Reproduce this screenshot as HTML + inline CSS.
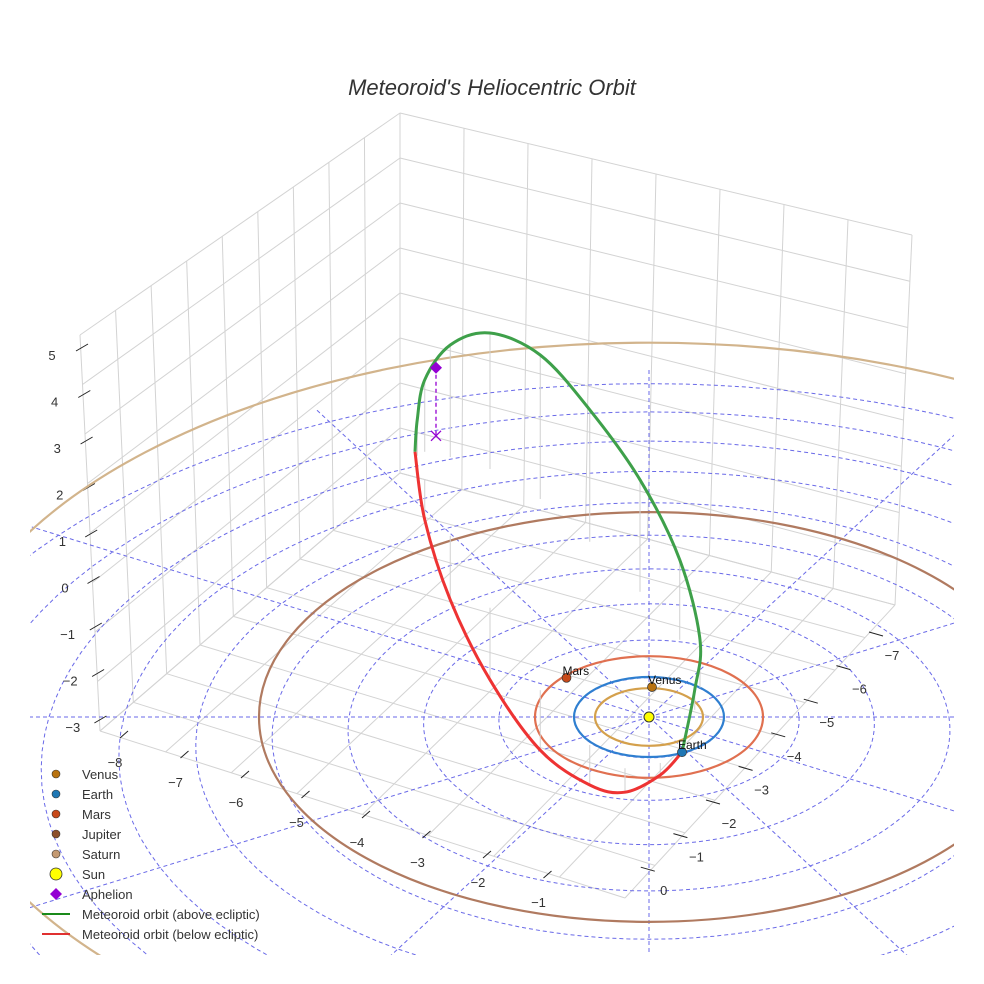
<!DOCTYPE html>
<html><head><meta charset="utf-8"><style>
html,body{margin:0;background:#fff;overflow:hidden;width:984px;height:984px}
svg{display:block;font-family:"Liberation Sans",sans-serif}
</style></head><body>
<svg id="c" width="984" height="984" viewBox="0 0 984 984">
<defs><clipPath id="clip"><rect x="30" y="0" width="924" height="955"/></clipPath></defs>
<text x="492" y="95" text-anchor="middle" font-size="22" font-style="italic" fill="#333">Meteoroid's Heliocentric Orbit</text>
<g id="box"></g>
<g id="ecl" clip-path="url(#clip)"></g>
<g id="axes"></g>
<g id="marks" clip-path="url(#clip)"></g>
<g id="legend"></g>
</svg>
<script>
// ---- data ----
const planetNames = ["Venus","Earth","Mars","Jupiter","Saturn"];
const planetOrbitAU = [0.72,1.0,1.52,5.2,9.5];
const planetColors = ["#d4a04c","#2f7fd0","#e07050","#b07a60","#d2b48c"];
const markerColors = ["#b8720f","#1f77b4","#c84a1a","#8c4f2c","#c49a72"];
const planetU = [0.04,0.44,-1.1];
const planetV = [-0.75,0.88,-0.98];
const ringRadii = [1,2,3,4,5,6,7,8,9,10];
const radialLength = 10.5;
const orbitAboveU = [0.44,0.61,0.68,0.41,-0.12,-0.79,-1.45,-2.12,-2.65,-2.99,-3.09,-3.12];
const orbitAboveV = [0.88,-0.18,-0.73,-1.93,-3.13,-4.38,-5.45,-6.2,-6.5,-6.63,-6.53,-6.63];
const orbitAboveZ = [0,0.5,1.2,2,2.8,3.3,3.6,3.4,2.8,1.8,0.9,0];
const orbitBelowU = [-3.12,-2.99,-2.65,-2.12,-1.45,-0.79,-0.32,0.15,0.44];
const orbitBelowV = [-6.63,-5.93,-4.53,-2.73,-0.67,0.7,1.28,1.15,0.88];
const orbitBelowZ = [0,-1,-1.6,-1.8,-1.5,-1,-0.6,-0.3,0];
const aphelion = {u:-2.84,v:-7.03,z:1.7};
const zTicks = ["5","4","3","2","1","0","−1","−2","−3"];
const xTicks = ["−8","−7","−6","−5","−4","−3","−2","−1"];
const yTicks = ["−7","−6","−5","−4","−3","−2","−1","0"];

const NS="http://www.w3.org/2000/svg";
const CX=649, CY=717, SU=75, SV=40, SZ=40;
const px=(u)=>CX+SU*u, py=(v,z)=>CY+SV*v-SZ*(z||0);
// perspective projection for ecliptic grid
function gp(u,v){const f=1/(1-0.02*v);return [CX+SU*u*f, CY+SV*v*f];}
function mk(parent,tag,at){const e=document.createElementNS(NS,tag);for(const k in at)e.setAttribute(k,at[k]);document.getElementById(parent).appendChild(e);return e;}
const lerp=(a,b,t)=>[a[0]+(b[0]-a[0])*t,a[1]+(b[1]-a[1])*t];

// ---- box grid ----
function quadGrid(A,B,C,D,nu,nv,name){
  for(let i=0;i<=nu;i++){const t=i/nu;const p=lerp(A,B,t),q=lerp(D,C,t);
    const l=mk('box','line',{x1:p[0],y1:p[1],x2:q[0],y2:q[1],stroke:'#d3d3d3','stroke-width':1});
    }
  for(let j=0;j<=nv;j++){const t=j/nv;const p=lerp(A,D,t),q=lerp(B,C,t);
    const l=mk('box','line',{x1:p[0],y1:p[1],x2:q[0],y2:q[1],stroke:'#d3d3d3','stroke-width':1});
    }
}
quadGrid([80,335],[400,113],[400,473],[100,731],9,8,'left-wall');
quadGrid([400,113],[912,235],[895,605],[400,473],8,8,'right-wall');
quadGrid([400,473],[895,605],[625,898],[100,731],8,9,'floor');

// ---- ecliptic rings & radials ----
ringRadii.forEach(r=>{let d='';for(let k=0;k<=120;k++){const a=k/120*2*Math.PI;const p=gp(r*Math.cos(a),r*Math.sin(a));d+=(k?'L':'M')+p[0].toFixed(1)+','+p[1].toFixed(1);}
  const e=mk('ecl','path',{d:d,fill:'none',stroke:'#6a6ae8','stroke-width':1,'stroke-dasharray':'4,3'});
  });
for(let a=0;a<360;a+=30){const c=Math.cos(a*Math.PI/180),s=Math.sin(a*Math.PI/180);
  const p=gp(radialLength*c,radialLength*s);
  const l=mk('ecl','line',{x1:CX,y1:CY,x2:p[0],y2:p[1],stroke:'#6a6ae8','stroke-width':1,'stroke-dasharray':'4,3'});
  }

// ---- axes ticks ----
zTicks.forEach((t,i)=>{const lx=52+2.6*i,ly=355+46.5*i;
  const tx=mk('axes','text',{x:lx,y:ly+5,'font-size':13,fill:'#333','text-anchor':'middle'});tx.textContent=t;
  
  const l=mk('axes','line',{x1:76+2.3*i,y1:ly-4,x2:88+2.3*i,y2:ly-11,stroke:'#222','stroke-width':1});
  });
xTicks.forEach((t,i)=>{const lx=115+60.5*i,ly=762+20*i;
  const tx=mk('axes','text',{x:lx,y:ly+5,'font-size':13,fill:'#333','text-anchor':'middle'});tx.textContent=t;
  
  const l=mk('axes','line',{x1:lx+5,y1:ly-24,x2:lx+13,y2:ly-31,stroke:'#222','stroke-width':1});
  });
yTicks.forEach((t,i)=>{const lx=892-32.6*i,ly=655+33.6*i;
  const tx=mk('axes','text',{x:lx,y:ly+5,'font-size':13,fill:'#333','text-anchor':'middle'});tx.textContent=t;
  
  const l=mk('axes','line',{x1:lx-23,y1:ly-23,x2:lx-9,y2:ly-19,stroke:'#222','stroke-width':1});
  });

// ---- planet orbits ----
planetOrbitAU.forEach((r,i)=>{const e=mk('marks','ellipse',{cx:CX,cy:CY,rx:SU*r,ry:SV*r*(i>2?0.985:1),fill:'none',stroke:planetColors[i],'stroke-width':2.2});
  });

// ---- meteoroid orbit ----
function catmull(pts){let d=`M${pts[0][0]},${pts[0][1]}`;
  for(let i=0;i<pts.length-1;i++){const p0=pts[Math.max(0,i-1)],p1=pts[i],p2=pts[i+1],p3=pts[Math.min(pts.length-1,i+2)];
    d+=` C${p1[0]+(p2[0]-p0[0])/6},${p1[1]+(p2[1]-p0[1])/6} ${p2[0]-(p3[0]-p1[0])/6},${p2[1]-(p3[1]-p1[1])/6} ${p2[0]},${p2[1]}`;}
  return d;}
function drawOrbit(U,V,Z,color,name){
  for(let i=1;i<U.length-1;i++){const l=mk('marks','line',{x1:px(U[i]),y1:py(V[i],Z[i]),x2:px(U[i]),y2:py(V[i],0),stroke:'#d0d0d0','stroke-width':1});
    }
  const pts=U.map((u,i)=>[px(u),py(V[i],Z[i])]);
  const p=mk('marks','path',{d:catmull(pts),fill:'none',stroke:color,'stroke-width':3});
  }
drawOrbit(orbitAboveU,orbitAboveV,orbitAboveZ,'#3ea04a','meteoroid-orbit-above');
drawOrbit(orbitBelowU,orbitBelowV,orbitBelowZ,'#ee3333','meteoroid-orbit-below');

// aphelion
{const x=px(aphelion.u),y1=py(aphelion.v,aphelion.z),y0=py(aphelion.v,0);
 const l=mk('marks','line',{x1:x,y1:y1,x2:x,y2:y0,stroke:'#9400d3','stroke-width':1.3,'stroke-dasharray':'4,3'});
 
 const xm=mk('marks','path',{d:`M${x-5},${y0-5}L${x+5},${y0+5}M${x+5},${y0-5}L${x-5},${y0+5}`,stroke:'#9400d3','stroke-width':1.3});
 
 const d=mk('marks','path',{d:`M${x},${y1-6}L${x+6},${y1}L${x},${y1+6}L${x-6},${y1}Z`,fill:'#9400d3'});
 }

// planets
planetU.forEach((u,i)=>{const c=mk('marks','circle',{cx:px(u),cy:py(planetV[i]),r:4.5,fill:markerColors[i],stroke:'#333','stroke-width':0.7});
  
  const t=mk('marks','text',{x:px(u)-4,y:py(planetV[i])-3,'font-size':12,fill:'#111'});t.textContent=planetNames[i];
  });
{const s=mk('marks','circle',{cx:CX,cy:CY,r:5,fill:'#ffff00',stroke:'#333','stroke-width':1});
 }

// ---- legend ----
const legItems=[["Venus","c",markerColors[0]],["Earth","c",markerColors[1]],["Mars","c",markerColors[2]],["Jupiter","c",markerColors[3]],["Saturn","c",markerColors[4]],["Sun","s","#ffff00"],["Aphelion","d","#9400d3"],["Meteoroid orbit (above ecliptic)","l","#1a8a1a"],["Meteoroid orbit (below ecliptic)","l","#e03030"]];
legItems.forEach((it,i)=>{const y=774+i*20,x=56;
  let m;
  if(it[1]=="c")m=mk('legend','circle',{cx:x,cy:y,r:4,fill:it[2],stroke:'#333','stroke-width':0.6});
  else if(it[1]=="s")m=mk('legend','circle',{cx:x,cy:y,r:6,fill:it[2],stroke:'#333','stroke-width':0.8});
  else if(it[1]=="d")m=mk('legend','path',{d:`M${x},${y-6}L${x+6},${y}L${x},${y+6}L${x-6},${y}Z`,fill:it[2]});
  else m=mk('legend','line',{x1:x-14,y1:y,x2:x+14,y2:y,stroke:it[2],'stroke-width':2});
  
  const t=mk('legend','text',{x:82,y:y+5,'font-size':13,fill:'#333'});t.textContent=it[0];
  });
</script>
</body></html>
